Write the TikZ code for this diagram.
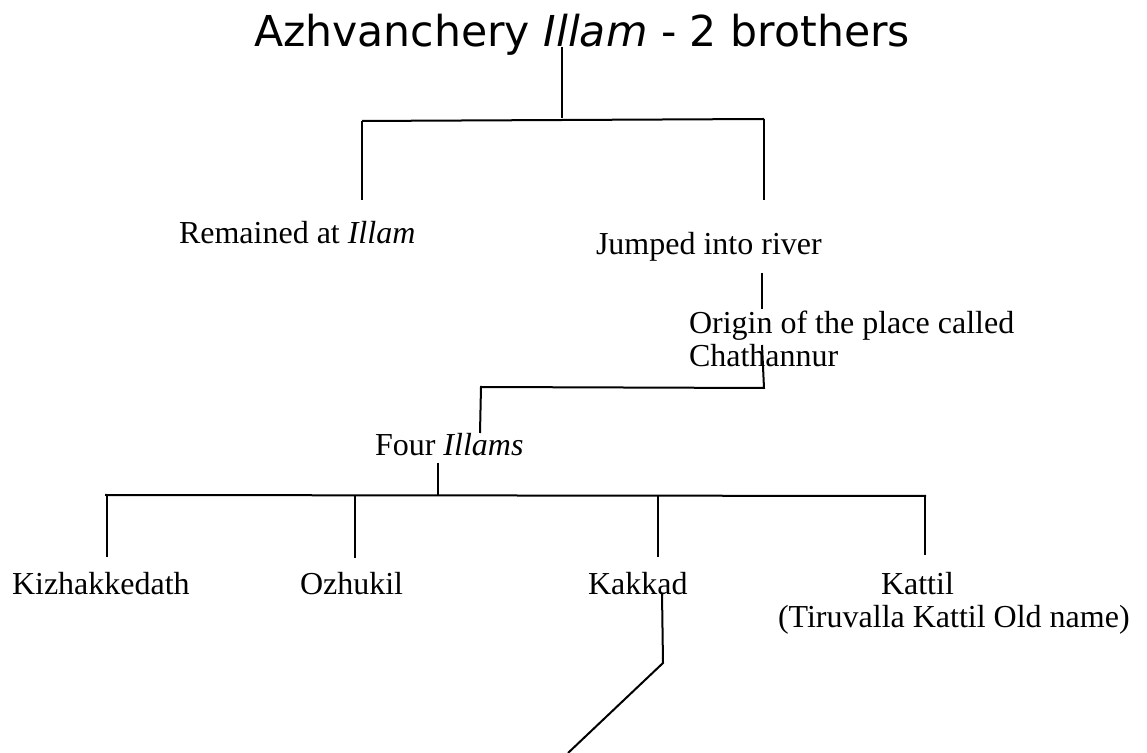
\documentclass[tikz,border=0pt]{standalone}
\usepackage{fontspec}
\setmainfont{Liberation Serif}
\newfontfamily\titlefont{DejaVu Sans}
\usetikzlibrary{positioning}

\begin{document}
\begin{tikzpicture}[x=0.5pt, y=-0.5pt, line width=1pt,
	txt/.style={inner sep=0pt, anchor=base west, font=\fontsize{16}{16.5}\selectfont}]
\useasboundingbox (0,0) rectangle (1147,753);
\node[inner sep=0pt, anchor=base west, font=\titlefont\fontsize{21.3}{24}\selectfont] (title) at (253,47) {Azhvanchery \textit{Illam} - 2 brothers};
\node[txt] (remained) at (178,244) {Remained at \textit{Illam}};
\node[txt] (jumped) at (595,255) {Jumped into river};
\node[txt, align=left] (origin) at (688,367) {Origin of the place called\\Chathannur};
\node[txt] (four) at (374,456) {Four \textit{Illams}};
\node[txt] (kizh) at (11,595) {Kizhakkedath};
\node[txt] (ozhu) at (299,595) {Ozhukil};
\node[txt] (kakk) at (587,595) {Kakkad};
\node[txt] (katt) at (880,595) {Kattil};
\node[txt] (kattnote) at (777,628) {(Tiruvalla Kattil Old name)};
% brothers
\coordinate (t0) at (562,47);
\coordinate (t1) at (562,118);
\coordinate (barL) at (362,121);
\coordinate (barR) at (764,119);
\coordinate (remTop) at (362,200);
\coordinate (jmpTop) at (764,200);
\draw (t0) -- (t1);
\draw (barL) -- (barR);
\draw (barL) -- (remTop);
\draw (barR) -- (jmpTop);
% river and Chathannur
\coordinate (j0) at (762,273);
\coordinate (j1) at (762,309);
\draw (j0) -- (j1);
\coordinate (c0) at (762,345);
\coordinate (c1) at (764,388);
\coordinate (c2) at (481,387);
\coordinate (c3) at (480,433);
\draw (c0) -- (c1) -- (c2) -- (c3);
% four illams
\coordinate (f0) at (438,463);
\coordinate (f1) at (438,495);
\coordinate (fL) at (105,495);
\coordinate (fR) at (926,496);
\draw (f0) -- (f1);
\draw (fL) -- (fR);
\foreach \x/\y/\n in {107/557/kizh, 355/558/ozhu, 658/557/kakk, 925/555/katt}{
	\coordinate (up\n) at (\x,495);
	\coordinate (lo\n) at (\x,\y);
	\draw (up\n) -- (lo\n);
}
% Kakkad
\coordinate (k0) at (662,593);
\coordinate (k1) at (663,663);
\coordinate (k2) at (568,753);
\draw (k0) -- (k1) -- (k2);
\end{tikzpicture}
\end{document}
